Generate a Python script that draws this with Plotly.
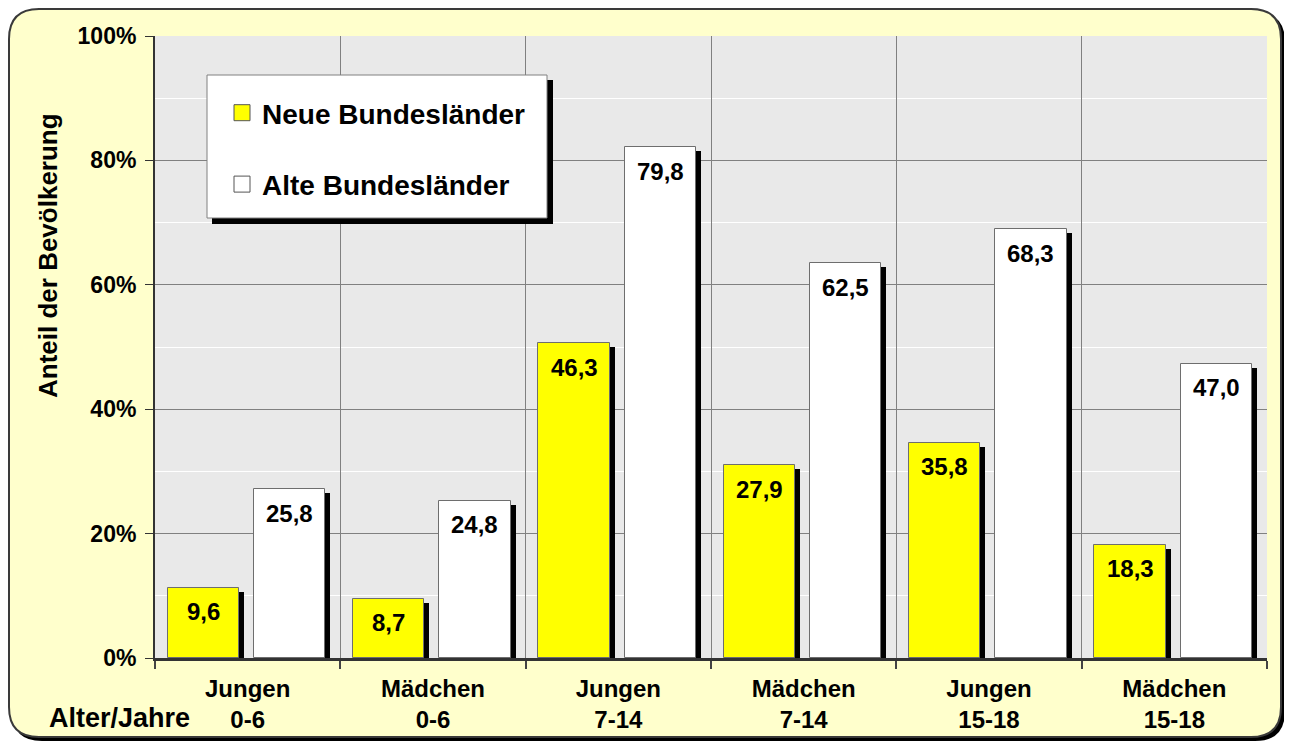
import plotly.graph_objects as go

# ---------------- data ----------------
categories = ["Jungen<br>0-6", "Mädchen<br>0-6", "Jungen<br>7-14",
              "Mädchen<br>7-14", "Jungen<br>15-18", "Mädchen<br>15-18"]
neue_heights = [11.3, 9.5, 50.6, 31.0, 34.6, 18.2]     # bar heights as drawn (%)
alte_heights = [27.1, 25.3, 82.1, 63.5, 68.9, 47.3]
neue_labels = ["9,6", "8,7", "46,3", "27,9", "35,8", "18,3"]
alte_labels = ["25,8", "24,8", "79,8", "62,5", "68,3", "47,0"]
series_names = ["Neue Bundesländer", "Alte Bundesländer"]
y_tickvals = [0, 20, 40, 60, 80, 100]
y_ticktext = ["0%", "20%", "40%", "60%", "80%", "100%"]

# ---------------- style ----------------
BODY = 8                      # default page margin of the html body
W, H = 1292 - BODY, 745 - BODY
# plot area in screen pixels
SX0, SX1, SY0, SY1 = 155, 1267, 36, 658
ML, MR = SX0 - BODY, 1292 - SX1
MT, MB = SY0 - BODY, 745 - SY1
PW, PH = SX1 - SX0, SY1 - SY0
CAT_PX = PW / len(categories)
FONT = "Liberation Sans, Arial, sans-serif"
YELLOW, WHITE = "#FFFF00", "#FFFFFF"
BAR_W = 0.385
OFF_NEUE, OFF_ALTE = -0.431, 0.034
SH_DX = 5 / CAT_PX          # shadow shift (category units)
SH_DY = 4 / (PH / 100)      # shadow drop (% units)


def px(xs):
    return (xs - SX0) / PW


def py(ys):
    return (SY1 - ys) / PH


fig = go.Figure()

# shadows
for vals, off in ((neue_heights, OFF_NEUE), (alte_heights, OFF_ALTE)):
    fig.add_trace(go.Bar(
        x=categories, y=[v - SH_DY for v in vals], width=BAR_W, offset=off + SH_DX,
        marker=dict(color="#000000", line=dict(width=0)),
        showlegend=False, hoverinfo="skip"))

# bars
for name, vals, off, col, grp in ((series_names[0], neue_heights, OFF_NEUE, YELLOW, "neue"),
                                  (series_names[1], alte_heights, OFF_ALTE, WHITE, "alte")):
    fig.add_trace(go.Bar(
        x=categories, y=vals, width=BAR_W, offset=off, name=name,
        marker=dict(color=col, line=dict(color="#6e6e6e", width=1)),
        legendgroup=grp, showlegend=False))

# legend entries (linked to bars)
for name, col, grp in ((series_names[0], YELLOW, "neue"), (series_names[1], WHITE, "alte")):
    fig.add_trace(go.Scatter(
        x=[None], y=[None], mode="markers", name=name, legendgroup=grp,
        marker=dict(symbol="square", size=16, color=col,
                    line=dict(color="#555555", width=1))))

# value labels
annotations = []
for vals, labs, off in ((neue_heights, neue_labels, OFF_NEUE), (alte_heights, alte_labels, OFF_ALTE)):
    for i, (v, t) in enumerate(zip(vals, labs)):
        annotations.append(dict(
            x=i + off + BAR_W / 2, y=v, xref="x", yref="y", text=t, showarrow=False,
            yanchor="middle", xanchor="center", yshift=-24,
            font=dict(family=FONT, size=24, color="#000000", weight="bold")))

annotations.append(dict(
    x=px(47), y=py(718), xref="paper", yref="paper", text="Alter/Jahre",
    showarrow=False, xanchor="left", yanchor="middle",
    font=dict(family=FONT, size=27, color="#000000", weight="bold")))
annotations.append(dict(
    x=px(48), y=py(256), xref="paper", yref="paper", text="Anteil der Bevölkerung",
    showarrow=False, textangle=-90, xanchor="center", yanchor="middle",
    font=dict(family=FONT, size=26, color="#000000", weight="bold")))


def rounded_path(x0, y0, x1, y1, r):
    pts = [
        f"M {px(x0 + r)},{py(y0)}",
        f"L {px(x1 - r)},{py(y0)}",
        f"Q {px(x1)},{py(y0)} {px(x1)},{py(y0 + r)}",
        f"L {px(x1)},{py(y1 - r)}",
        f"Q {px(x1)},{py(y1)} {px(x1 - r)},{py(y1)}",
        f"L {px(x0 + r)},{py(y1)}",
        f"Q {px(x0)},{py(y1)} {px(x0)},{py(y1 - r)}",
        f"L {px(x0)},{py(y0 + r)}",
        f"Q {px(x0)},{py(y0)} {px(x0 + r)},{py(y0)}",
        "Z",
    ]
    return " ".join(pts)


shapes = [
    # outer frame shadow + frame
    dict(type="path", xref="paper", yref="paper", layer="below",
         path=rounded_path(12, 12, 1285, 741, 30), fillcolor="#000000", line=dict(width=0)),
    dict(type="path", xref="paper", yref="paper", layer="below",
         path=rounded_path(9, 9, 1281, 737, 30), fillcolor="#FFFFCC",
         line=dict(color="#3a3a3a", width=2)),
    # plot area background
    dict(type="rect", xref="paper", yref="paper", layer="below",
         x0=0, x1=1, y0=0, y1=1, fillcolor="#E9E9E9", line=dict(width=0)),
    # legend box shadow + box
    dict(type="rect", xref="paper", yref="paper", layer="above",
         x0=px(212), x1=px(553), y0=py(224), y1=py(80),
         fillcolor="#000000", line=dict(width=0)),
    dict(type="rect", xref="paper", yref="paper", layer="above",
         x0=px(207), x1=px(547), y0=py(218), y1=py(75),
         fillcolor="#FFFFFF", line=dict(color="#808080", width=1)),
]

fig.update_layout(
    width=W, height=H,
    margin=dict(l=ML, r=MR, t=MT, b=MB, pad=0, autoexpand=False),
    paper_bgcolor="#FFFFFF", plot_bgcolor="rgba(0,0,0,0)",
    barmode="overlay", bargap=0,
    font=dict(family=FONT, color="#000000"),
    shapes=shapes, annotations=annotations,
    showlegend=True,
    legend=dict(x=px(222), y=py(88), xanchor="left", yanchor="top",
                bgcolor="rgba(0,0,0,0)", borderwidth=0,
                tracegroupgap=32, traceorder="grouped",
                font=dict(family=FONT, size=28, color="#000000", weight="bold")),
    xaxis=dict(type="category", tickson="boundaries", showgrid=True,
               gridcolor="#808080", gridwidth=1, automargin=False,
               showline=True, linecolor="#333333", linewidth=3,
               ticks="outside", ticklen=8, tickwidth=2, tickcolor="#444444",
               ticklabelstandoff=7,
               tickfont=dict(family=FONT, size=24, color="#000000", weight="bold"),
               range=[-0.5, 5.5], fixedrange=True),
    yaxis=dict(range=[0, 100], tickvals=y_tickvals, ticktext=y_ticktext,
               showgrid=True, gridcolor="#808080", gridwidth=1, automargin=False,
               minor=dict(dtick=10, showgrid=True, gridcolor="#FFFFFF", gridwidth=1),
               showline=True, linecolor="#333333", linewidth=2,
               ticks="outside", ticklen=8, tickwidth=1, tickcolor="#333333",
               ticklabelstandoff=4, zeroline=False,
               tickfont=dict(family=FONT, size=23, color="#000000", weight="bold"),
               fixedrange=True),
)

fig.write_html("out.html")
